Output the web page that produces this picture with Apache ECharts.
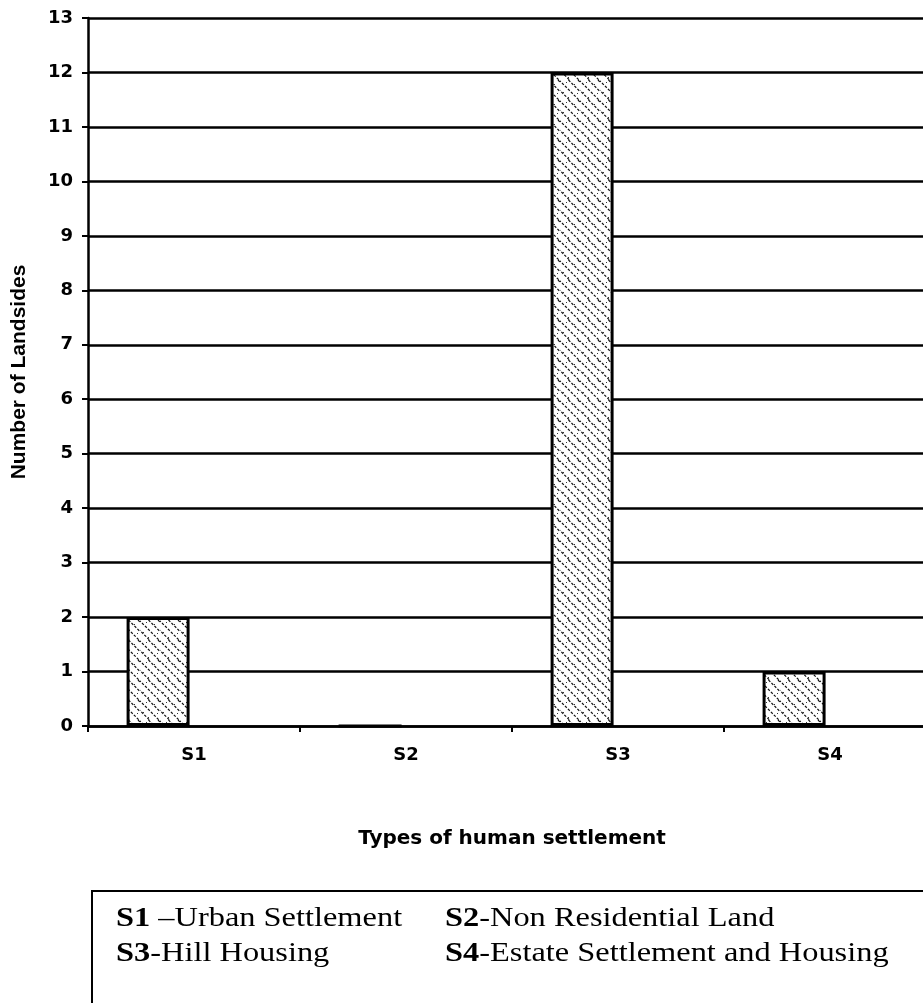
<!DOCTYPE html>
<html>
<head>
<meta charset="utf-8">
<script src="https://cdn.jsdelivr.net/npm/echarts@6/dist/echarts.min.js"></script>
<style>
  html, body { margin: 0; padding: 0; background: #fff; }
  #chart { width: 923px; height: 1003px; }
</style>
</head>
<body>
<div id="chart"></div>
<script>
// Settlement types on the category axis
const categories = ['S1', 'S2', 'S3', 'S4'];
// Number of landslides per settlement type
const landslides = [2, 0, 12, 1];
// Second bar slot in each group is left empty
const emptySlot = ['-', '-', '-', '-'];
// Value axis range
const yMin = 0;
const yMax = 13;
const yStep = 1;
// Key below the chart: [bold code, description]
const keyRow1 = [['S1', ' \u2013Urban Settlement'], ['S2', '-Non Residential Land']];
const keyRow2 = [['S3', '-Hill Housing'], ['S4', '-Estate Settlement and Housing']];

// Dotted diagonal hatch used to fill the bars
function makeHatch() {
  const c = document.createElement('canvas');
  c.width = 20; c.height = 20;
  const g = c.getContext('2d');
  g.fillStyle = '#fff';
  g.fillRect(0, 0, 20, 20);
  g.strokeStyle = '#111';
  g.lineWidth = 1.2;
  g.setLineDash([2.6, 1.6]);
  for (let k = -20; k <= 20; k += 9.5) {
    g.beginPath();
    g.moveTo(k, 0);
    g.lineTo(k + 20, 20);
    g.stroke();
  }
  g.fillStyle = '#333';
  [[3, 12], [14, 4], [8, 17], [17, 13], [6, 2]].forEach(p => g.fillRect(p[0], p[1], 1, 1));
  return c;
}

const serif = 'Liberation Serif, Times New Roman, serif';
const rich = {
  b: { fontFamily: serif, fontWeight: 'bold', fontSize: 27, fill: '#000' },
  r: { fontFamily: serif, fontWeight: 'normal', fontSize: 27, fill: '#000' }
};
function keyText(item, x, y) {
  return {
    type: 'text', x: x, y: y, scaleX: 1.2,
    style: {
      text: '{b|' + item[0] + '}{r|' + item[1] + '}',
      rich: rich, x: 0, y: 0, verticalAlign: 'middle', align: 'left'
    }
  };
}

const chart = echarts.init(document.getElementById('chart'));
chart.setOption({
  animation: false,
  backgroundColor: '#fff',
  grid: { left: 88, top: 18, width: 848, height: 708, containLabel: false, outerBoundsMode: 'none' },
  xAxis: {
    type: 'category',
    data: categories,
    axisLine: { lineStyle: { color: '#000', width: 2.5 } },
    axisTick: { show: true, length: 6, lineStyle: { color: '#000', width: 2 } },
    axisLabel: { fontFamily: 'DejaVu Sans', fontWeight: 'bold', fontSize: 18, color: '#000', margin: 20 },
    name: 'Types of human settlement',
    nameLocation: 'middle',
    nameGap: 103,
    nameTextStyle: { fontFamily: 'DejaVu Sans', fontWeight: 'bold', fontSize: 20, color: '#000' }
  },
  yAxis: {
    type: 'value',
    min: yMin, max: yMax, interval: yStep,
    name: 'Number of Landsides',
    nameLocation: 'middle',
    nameGap: 58,
    nameTextStyle: { fontFamily: 'Liberation Sans', fontWeight: 'bold', fontSize: 21, color: '#000' },
    axisLine: { show: true, lineStyle: { color: '#000', width: 2.5 } },
    axisTick: { show: true, length: 6, lineStyle: { color: '#000', width: 2 } },
    axisLabel: { fontFamily: 'DejaVu Sans', fontWeight: 'bold', fontSize: 18, color: '#000', margin: 15 },
    splitLine: { show: true, lineStyle: { color: '#000', width: 2.5 } }
  },
  series: [
    {
      type: 'bar', name: 'Landslides', data: landslides,
      barWidth: 63, barGap: '14%',
      itemStyle: { color: { image: makeHatch(), repeat: 'repeat' }, borderColor: '#000', borderWidth: 3 }
    },
    { type: 'bar', name: 'Empty', data: emptySlot, barWidth: 63 }
  ],
  graphic: [
    { type: 'rect', shape: { x: 92, y: 891, width: 900, height: 200 }, style: { fill: 'none', stroke: '#000', lineWidth: 2 } },
    keyText(keyRow1[0], 116, 919),
    keyText(keyRow1[1], 445, 919),
    keyText(keyRow2[0], 116, 954),
    keyText(keyRow2[1], 445, 954)
  ]
});
</script>
</body>
</html>
